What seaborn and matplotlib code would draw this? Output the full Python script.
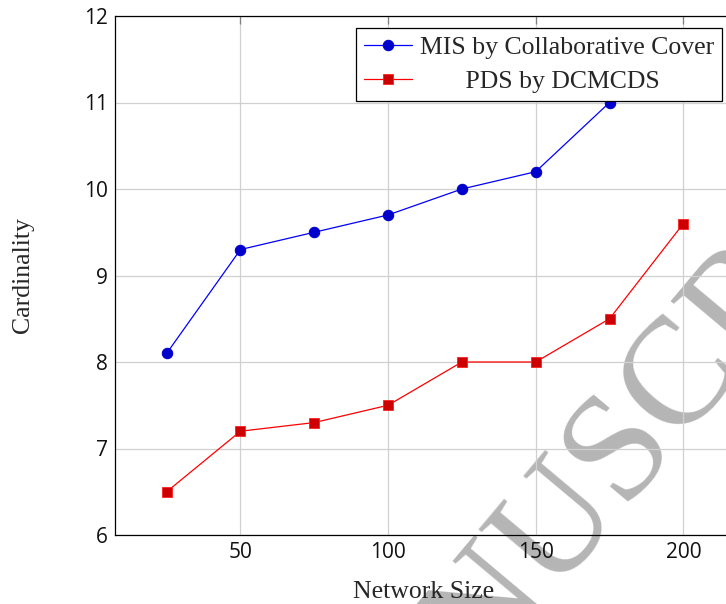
import matplotlib
matplotlib.use('Agg')
import matplotlib.pyplot as plt
import seaborn as sns
import pandas as pd

network_size = [25, 50, 75, 100, 125, 150, 175, 200]
mis_collab = [8.1, 9.3, 9.5, 9.7, 10.0, 10.2, 11.0, 11.6]
pds_dcmcds = [6.5, 7.2, 7.3, 7.5, 8.0, 8.0, 8.5, 9.6]
series_names = ['MIS by Collaborative Cover', 'PDS by DCMCDS']
x_ticks = [50, 100, 150, 200]
y_ticks = [6, 7, 8, 9, 10, 11, 12]
x_label = 'Network Size'
y_label = 'Cardinality'
watermark = 'MANUSCRIPT'

sns.set_style('whitegrid')
plt.rcParams['font.family'] = ['Liberation Serif', 'DejaVu Serif']

W, H = 726, 604
fig = plt.figure(figsize=(W / 100, H / 100), dpi=100)
fig.patch.set_facecolor('white')
ax = fig.add_axes([115 / W, 69 / H, 620 / W, 519 / H])
ax.patch.set_alpha(0)

df = pd.DataFrame({'x': network_size, 'mis': mis_collab, 'pds': pds_dcmcds})
sns.lineplot(data=df, x='x', y='mis', ax=ax, color='#0000ff', lw=0.9,
             marker='o', markersize=7.5, markerfacecolor='#0000cc',
             markeredgecolor='#0000cc', label=series_names[0])
sns.lineplot(data=df, x='x', y='pds', ax=ax, color='#ff0000', lw=0.9,
             marker='s', markersize=7.5, markerfacecolor='#cc0000',
             markeredgecolor='#ff2020', markeredgewidth=0.6,
             label='       ' + series_names[1])

ax.set_xlim(7.5, 217.5)
ax.set_ylim(6, 12)
ax.set_xticks(x_ticks)
ax.set_yticks(y_ticks)
ax.grid(True, color='#d0d0d0', lw=0.9)
for s in ax.spines.values():
    s.set_color('black')
    s.set_linewidth(0.9)
ax.tick_params(direction='in', length=6, color='#808080', width=0.9,
               top=True, right=True, labelsize=15, pad=5)
for lbl in ax.get_xticklabels() + ax.get_yticklabels():
    lbl.set_fontfamily(['Open Sans', 'DejaVu Sans'])
    lbl.set_color('#111111')

ax.set_xlabel(x_label, fontsize=18.5)
ax.set_ylabel(y_label, fontsize=18.5)
ax.xaxis.set_label_coords((424 - 115) / 620, (535 - 581) / 519)
ax.yaxis.set_label_coords((34 - 115) / 620, (535 - 275) / 519)

leg = ax.legend(loc='upper right', bbox_to_anchor=(722 / W, 1 - 28 / H),
                bbox_transform=fig.transFigure, borderaxespad=0,
                fontsize=18.5, frameon=True, fancybox=False, framealpha=1,
                edgecolor='black', handlelength=1.9, handletextpad=0.3,
                labelspacing=0.45, borderpad=0.3)
leg.get_frame().set_linewidth(0.9)

# watermark lies beneath the plot content
fig.text(612 / W, 1 - 465 / H, watermark, rotation=50, rotation_mode='anchor',
         ha='center', va='center', fontsize=110, color='#b5b5b5',
         family='Liberation Serif', zorder=-5)

fig.savefig('out.png', dpi=100, facecolor='white')
